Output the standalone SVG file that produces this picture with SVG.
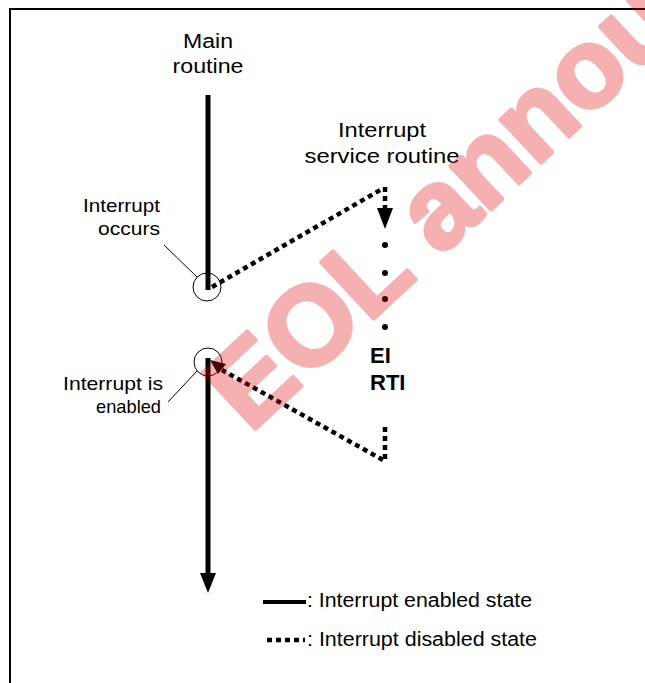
<svg xmlns="http://www.w3.org/2000/svg" width="645" height="683" viewBox="0 0 645 683">
<style>
text{font-family:"Liberation Sans",Arial,sans-serif;fill:#000}
.lbl{font-size:20px}
.sm{font-size:19px}
.b{font-size:22px;font-weight:bold}
.solid{stroke:#000;stroke-width:5;fill:none}
.dot{stroke:#000;stroke-width:4.5;fill:none;stroke-dasharray:5 4}
.thin{stroke:#000;stroke-width:1;fill:none}
.wm{font-family:"Liberation Sans",Arial,sans-serif;font-size:112px;font-weight:bold;fill:#e00000;stroke:#e00000;stroke-width:4;stroke-linejoin:round}
</style>
<rect x="10" y="9" width="700" height="700" fill="#fff" stroke="#000" stroke-width="2"/>
<g id="main-label"><text class="lbl" x="208" y="48" text-anchor="middle" textLength="50" lengthAdjust="spacingAndGlyphs">Main</text><text class="lbl" x="208" y="73" text-anchor="middle" textLength="71" lengthAdjust="spacingAndGlyphs">routine</text></g>
<g id="isr-label"><text class="lbl" x="382" y="137" text-anchor="middle" textLength="88" lengthAdjust="spacingAndGlyphs">Interrupt</text><text class="lbl" x="382" y="163" text-anchor="middle" textLength="155" lengthAdjust="spacingAndGlyphs">service routine</text></g>
<g id="occurs-label"><text class="sm" x="160" y="212" text-anchor="end" textLength="77" lengthAdjust="spacingAndGlyphs">Interrupt</text><text class="sm" x="160" y="235" text-anchor="end" textLength="62" lengthAdjust="spacingAndGlyphs">occurs</text></g>
<g id="enabled-label"><text class="sm" x="163" y="390" text-anchor="end" textLength="100" lengthAdjust="spacingAndGlyphs">Interrupt is</text><text class="sm" x="161" y="413" text-anchor="end" textLength="65" lengthAdjust="spacingAndGlyphs">enabled</text></g>
<g id="ei-rti"><text class="b" x="370" y="363">EI</text><text class="b" x="370" y="390">RTI</text></g>
<g id="occurs-circle"><circle class="thin" cx="207" cy="287" r="14"/></g>
<g id="enabled-circle"><circle class="thin" cx="208" cy="362" r="14"/></g>
<g id="connectors">
<line class="solid" x1="208" y1="95" x2="208" y2="290"/>
<line class="thin" x1="164" y1="245" x2="197" y2="277"/>
<line class="dot" x1="212" y1="287" x2="382" y2="189"/>
<line class="dot" x1="385" y1="187" x2="385" y2="210"/>
<polygon points="377,208 393,208 385,229" fill="#000"/>
<circle cx="385" cy="245" r="3" fill="#000"/>
<circle cx="385" cy="273" r="3" fill="#000"/>
<circle cx="385" cy="299" r="3" fill="#000"/>
<circle cx="385" cy="327" r="3" fill="#000"/>
<line class="dot" x1="385" y1="427" x2="385" y2="460"/>
<line class="dot" x1="383" y1="460" x2="222" y2="370"/>
<polygon points="210,360 226,364 218,374" fill="#000"/>
<line class="solid" x1="208" y1="358" x2="208" y2="574"/>
<polygon points="200,573 216,573 208,593" fill="#000"/>
<line class="thin" x1="168" y1="402" x2="197" y2="371"/>
</g>
<g id="legend">
<line stroke="#000" stroke-width="4" x1="263" y1="602" x2="306" y2="602"/>
<text class="lbl" x="307" y="607" textLength="225" lengthAdjust="spacingAndGlyphs">: Interrupt enabled state</text>
<line class="dot" x1="267" y1="640" x2="305" y2="640"/>
<text class="lbl" x="307" y="646" textLength="230" lengthAdjust="spacingAndGlyphs">: Interrupt disabled state</text>
</g>
<g opacity="0.3"><text class="wm" x="250" y="434" transform="rotate(-43 250 434)">EOL announced</text></g>
</svg>
